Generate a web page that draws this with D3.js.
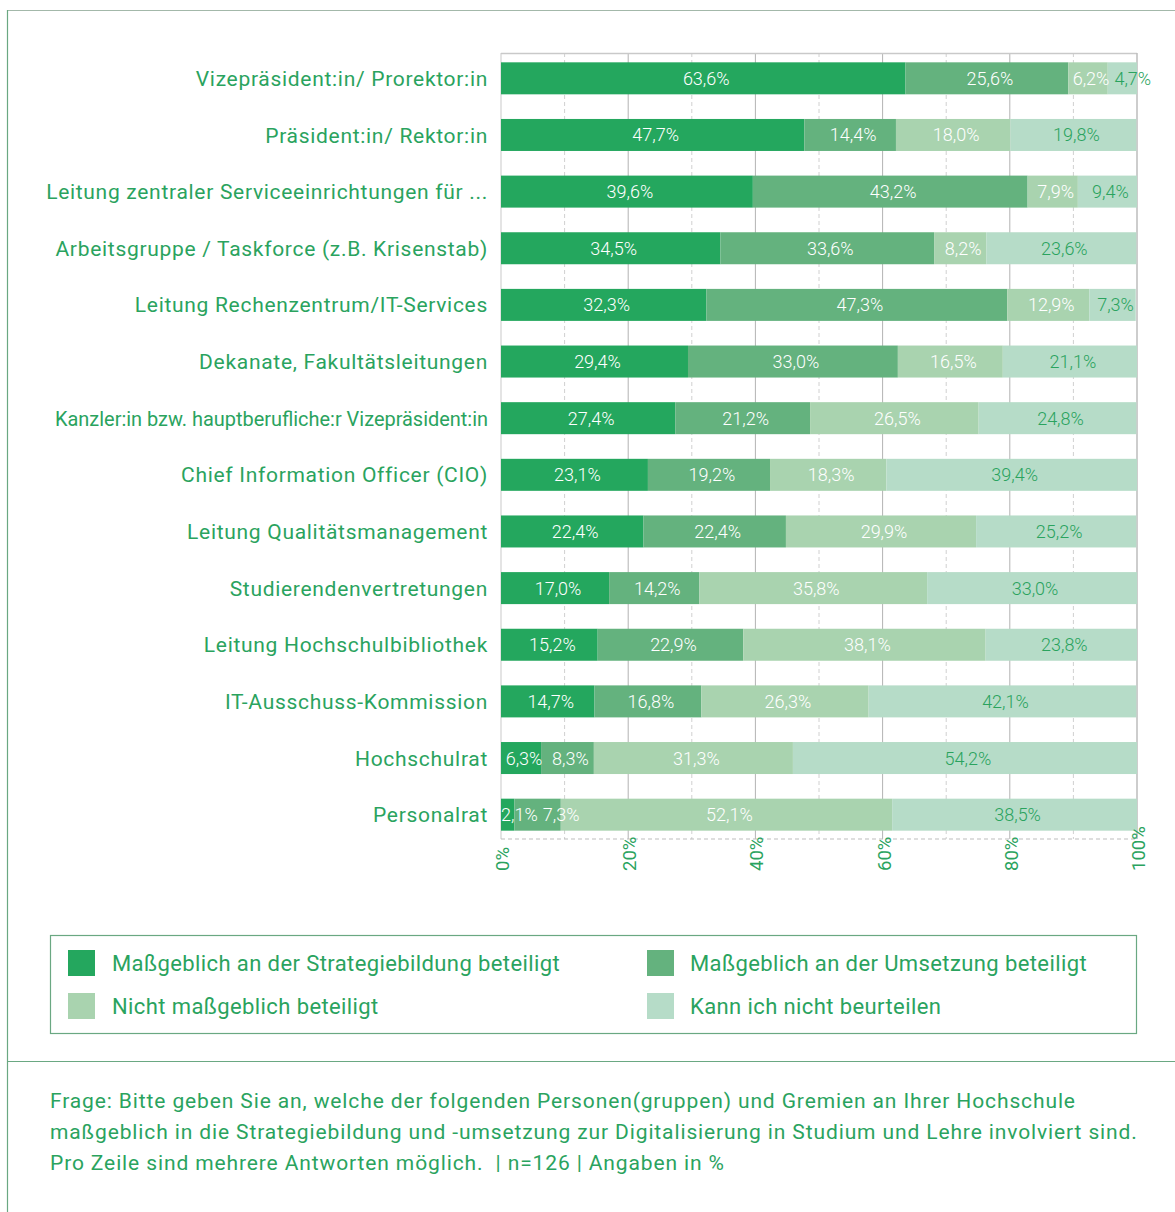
<!DOCTYPE html>
<html>
<head>
<meta charset="utf-8">
<script src="https://cdn.jsdelivr.net/npm/d3@7"></script>
<style>
  html, body { margin: 0; padding: 0; background: #fff; }
  svg { display: block; font-family: Roboto, "Noto Sans", sans-serif; }
  .pre { white-space: pre; }
</style>
</head>
<body>
<svg id="chart" width="1175" height="1212"></svg>
<script>
// Rows of the stacked bar chart, top to bottom
const categories = [
  "Vizepräsident:in/ Prorektor:in",
  "Präsident:in/ Rektor:in",
  "Leitung zentraler Serviceeinrichtungen für ...",
  "Arbeitsgruppe / Taskforce (z.B. Krisenstab)",
  "Leitung Rechenzentrum/IT-Services",
  "Dekanate, Fakultätsleitungen",
  "Kanzler:in bzw. hauptberufliche:r Vizepräsident:in",
  "Chief Information Officer (CIO)",
  "Leitung Qualitätsmanagement",
  "Studierendenvertretungen",
  "Leitung Hochschulbibliothek",
  "IT-Ausschuss-Kommission",
  "Hochschulrat",
  "Personalrat"
];

// Shares in percent, one array per answer option
const strategie = [63.6, 47.7, 39.6, 34.5, 32.3, 29.4, 27.4, 23.1, 22.4, 17.0, 15.2, 14.7, 6.3, 2.1];
const umsetzung = [25.6, 14.4, 43.2, 33.6, 47.3, 33.0, 21.2, 19.2, 22.4, 14.2, 22.9, 16.8, 8.3, 7.3];
const nichtBeteiligt = [6.2, 18.0, 7.9, 8.2, 12.9, 16.5, 26.5, 18.3, 29.9, 35.8, 38.1, 26.3, 31.3, 52.1];
const kannNicht = [4.7, 19.8, 9.4, 23.6, 7.3, 21.1, 24.8, 39.4, 25.2, 33.0, 23.8, 42.1, 54.2, 38.5];

const seriesNames = [
  "Maßgeblich an der Strategiebildung beteiligt",
  "Maßgeblich an der Umsetzung beteiligt",
  "Nicht maßgeblich beteiligt",
  "Kann ich nicht beurteilen"
];

const tickValues = [0, 20, 40, 60, 80, 100];
const tickLabels = ["0%", "20%", "40%", "60%", "80%", "100%"];

const footerLines = [
  "Frage: Bitte geben Sie an, welche der folgenden Personen(gruppen) und Gremien an Ihrer Hochschule",
  "maßgeblich in die Strategiebildung und -umsetzung zur Digitalisierung in Studium und Lehre involviert sind.",
  "Pro Zeile sind mehrere Antworten möglich.  | n=126 | Angaben in %"
];

// ---- styling ----
const colors = ["#24a75e", "#64b27e", "#a9d3af", "#b6dcc8"];
const textGreen = "#2aa35e";
const frameGreen = "#6aa882";

const svg = d3.select("#chart");
const seriesValues = [strategie, umsetzung, nichtBeteiligt, kannNicht];

const rows = categories.map((c, i) => {
  const r = { category: c };
  seriesNames.forEach((s, k) => { r[s] = seriesValues[k][i]; });
  return r;
});

const stacked = d3.stack().keys(seriesNames)(rows);

const plot = { left: 501, right: 1137, top: 53, bottom: 839 };

const x = d3.scaleLinear().domain([0, 100]).range([plot.left, plot.right]).clamp(true);
const y = d3.scaleBand()
  .domain(categories)
  .range([50, 843])
  .paddingInner(0.435)
  .paddingOuter(0.2175);

const locale = d3.formatLocale({ decimal: ",", thousands: ".", grouping: [3], currency: ["", "€"] });
const fmt = locale.format(".1f");

// outer frame lines
svg.append("line").attr("x1", 7).attr("x2", 1175).attr("y1", 10.5).attr("y2", 10.5)
  .attr("stroke", "#a3b8aa").attr("stroke-width", 1.2);
svg.append("line").attr("x1", 7.5).attr("x2", 7.5).attr("y1", 10).attr("y2", 1212)
  .attr("stroke", frameGreen).attr("stroke-width", 1.2);
svg.append("line").attr("x1", 7).attr("x2", 1175).attr("y1", 1061.5).attr("y2", 1061.5)
  .attr("stroke", frameGreen).attr("stroke-width", 1.2);

// grid
const grid = svg.append("g");
d3.range(10, 100, 10).forEach(v => {
  const major = v % 20 === 0;
  grid.append("line")
    .attr("x1", x(v)).attr("x2", x(v))
    .attr("y1", plot.top).attr("y2", plot.bottom)
    .attr("stroke", major ? "#b3b3b3" : "#d0d0d0")
    .attr("stroke-width", 1)
    .attr("stroke-dasharray", major ? null : "4,3");
});
grid.append("line").attr("x1", plot.left).attr("x2", plot.right)
  .attr("y1", plot.top + 0.5).attr("y2", plot.top + 0.5)
  .attr("stroke", "#c9c9c9").attr("stroke-width", 1.5);
grid.append("line").attr("x1", plot.right).attr("x2", plot.right)
  .attr("y1", plot.top).attr("y2", plot.bottom)
  .attr("stroke", "#bdbdbd").attr("stroke-width", 1.5);
grid.append("line").attr("x1", plot.left).attr("x2", plot.left)
  .attr("y1", plot.top).attr("y2", plot.bottom)
  .attr("stroke", "#c9c9c9").attr("stroke-width", 1);
grid.append("line").attr("x1", plot.left).attr("x2", plot.right)
  .attr("y1", plot.bottom).attr("y2", plot.bottom)
  .attr("stroke", "#bdbdbd").attr("stroke-width", 1)
  .attr("stroke-dasharray", "4,3");

// bars
const layers = svg.append("g").selectAll("g")
  .data(stacked)
  .join("g")
  .attr("fill", (d, i) => colors[i]);

layers.selectAll("rect")
  .data(d => d)
  .join("rect")
  .attr("x", d => x(d[0]))
  .attr("width", d => Math.max(0, x(d[1]) - x(d[0])))
  .attr("y", d => y(d.data.category))
  .attr("height", y.bandwidth());

// value labels: centred in each segment, then pushed right so that
// neighbouring labels of narrow segments do not collide
const labels = svg.append("g")
  .attr("font-size", 18)
  .attr("font-weight", 300)
  .attr("text-anchor", "middle");

const labelNodes = stacked.map((layer, i) =>
  labels.selectAll(null)
    .data(layer)
    .join("text")
    .attr("x", d => (x(d[0]) + x(d[1])) / 2 + 3)
    .attr("y", d => y(d.data.category) + y.bandwidth() / 2)
    .attr("dy", "0.36em")
    .attr("fill", i === 3 ? textGreen : "#ffffff")
    .text(d => fmt(d.data[layer.key]) + "%")
    .nodes()
);

categories.forEach((c, r) => {
  let prevRight = plot.left - 10;
  labelNodes.forEach(nodes => {
    const node = nodes[r];
    const w = node.getComputedTextLength();
    let left = +node.getAttribute("x") - w / 2;
    left = Math.max(left, prevRight + 5, plot.left);
    node.setAttribute("x", left + w / 2);
    prevRight = left + w;
  });
});

// category labels
svg.append("g")
  .attr("font-size", 21)
  .attr("letter-spacing", 0.7)
  .attr("fill", textGreen)
  .attr("text-anchor", "end")
  .selectAll("text")
  .data(categories)
  .join("text")
  .attr("x", 488)
  .attr("y", d => y(d) + y.bandwidth() / 2)
  .attr("dy", "0.36em")
  .each(function (d) {
    if (d.startsWith("Kanzler")) {
      d3.select(this).attr("letter-spacing", 0)
        .attr("textLength", 433).attr("lengthAdjust", "spacingAndGlyphs");
    }
  })
  .text(d => d);

// x axis tick labels (rotated)
const xAxis = d3.axisBottom(x)
  .tickValues(tickValues)
  .tickFormat((d, i) => tickLabels[i])
  .tickSize(0);

const axisG = svg.append("g")
  .attr("transform", `translate(0,${plot.bottom})`)
  .call(xAxis);
axisG.select(".domain").remove();
axisG.selectAll("text")
  .attr("font-family", "Roboto, sans-serif")
  .attr("font-size", 18.5)
  .attr("fill", textGreen)
  .attr("text-anchor", "start")
  .attr("dy", "0.35em")
  .attr("y", 0)
  .attr("transform", "translate(1,32) rotate(-90)");

// legend
const legend = svg.append("g");
legend.append("rect")
  .attr("x", 50.5).attr("y", 935.5).attr("width", 1086).attr("height", 98)
  .attr("fill", "none").attr("stroke", frameGreen).attr("stroke-width", 1.2);

const legendPos = [
  { sx: 68, tx: 112, y: 963 },
  { sx: 647, tx: 690, y: 963 },
  { sx: 68, tx: 112, y: 1006 },
  { sx: 647, tx: 690, y: 1006 }
];
seriesNames.forEach((name, i) => {
  const p = legendPos[i];
  legend.append("rect")
    .attr("x", p.sx).attr("y", p.y - 13).attr("width", 27).attr("height", 26)
    .attr("fill", colors[i]);
  legend.append("text")
    .attr("x", p.tx).attr("y", p.y)
    .attr("dy", "0.36em")
    .attr("font-size", 22)
    .attr("letter-spacing", 0.4)
    .attr("fill", textGreen)
    .text(name);
});

// question footer
svg.append("g")
  .attr("font-size", 21)
  .attr("letter-spacing", 0.88)
  .attr("fill", textGreen)
  .selectAll("text")
  .data(footerLines)
  .join("text")
  .attr("class", "pre")
  .attr("x", 50)
  .attr("y", (d, i) => 1108 + i * 31)
  .text(d => d);
</script>
</body>
</html>
